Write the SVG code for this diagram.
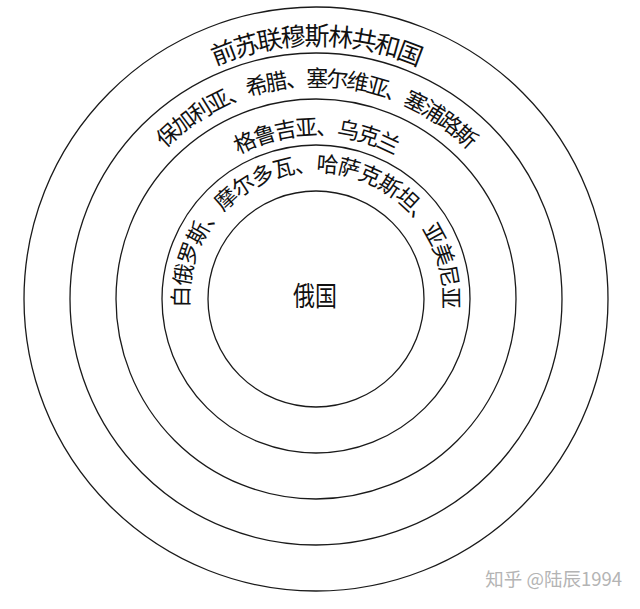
<svg xmlns="http://www.w3.org/2000/svg" xmlns:xlink="http://www.w3.org/1999/xlink" width="640" height="609" viewBox="0 0 640 609">
<style>
.ring{fill:none;stroke:#1a1a1a;stroke-width:1.3}
.lbl{font-family:"Liberation Serif","Noto Sans CJK SC",serif;fill:#111}
.wm{font-family:"Noto Sans CJK SC","Liberation Sans",sans-serif;fill:#b4b4b4;font-size:18.5px}
</style>
<defs>
<path id="p1" d="M316,553 A254,254 0 0 1 316,45 A254,254 0 0 1 316,553"/>
<path id="p2" d="M316,512 A213,213 0 0 1 316,86 A213,213 0 0 1 316,512"/>
<path id="p3" d="M316,463 A164,164 0 0 1 316,135 A164,164 0 0 1 316,463"/>
<path id="p4" d="M316,426 A127,127 0 0 1 316,172 A127,127 0 0 1 316,426"/>
</defs>
<rect width="640" height="609" fill="#fff"/>
<g id="circles">
<circle id="c5" class="ring" cx="316" cy="299" r="292"/>
<circle id="c4" class="ring" cx="316" cy="299" r="246"/>
<circle id="c3" class="ring" cx="316" cy="299" r="200"/>
<circle id="c2" class="ring" cx="316" cy="299" r="154"/>
<circle id="c1" class="ring" cx="316" cy="299" r="108"/>
</g>
<g id="ring1"><text class="lbl" font-size="25" letter-spacing="-2" text-anchor="middle"><textPath xlink:href="#p1" href="#p1" startOffset="50%">前苏联穆斯林共和国</textPath></text></g>
<g id="ring2"><text class="lbl" font-size="22" letter-spacing="-2.3" text-anchor="middle"><textPath xlink:href="#p2" href="#p2" startOffset="50%">保加利亚、希腊、塞尔维亚、塞浦路斯</textPath></text></g>
<g id="ring3"><text class="lbl" font-size="22" letter-spacing="-1.8" text-anchor="middle"><textPath xlink:href="#p3" href="#p3" startOffset="50%">格鲁吉亚、乌克兰</textPath></text></g>
<g id="ring4"><text class="lbl" font-size="22" letter-spacing="-1.2" text-anchor="middle"><textPath xlink:href="#p4" href="#p4" startOffset="50%">白俄罗斯、摩尔多瓦、哈萨克斯坦、亚美尼亚</textPath></text></g>
<g id="center"><text class="lbl" x="315" y="306" font-size="27" text-anchor="middle" textLength="44" lengthAdjust="spacingAndGlyphs">俄国</text></g>
<g id="watermark"><text class="wm" x="622" y="586" text-anchor="end">知乎 @陆辰1994</text></g>
</svg>
